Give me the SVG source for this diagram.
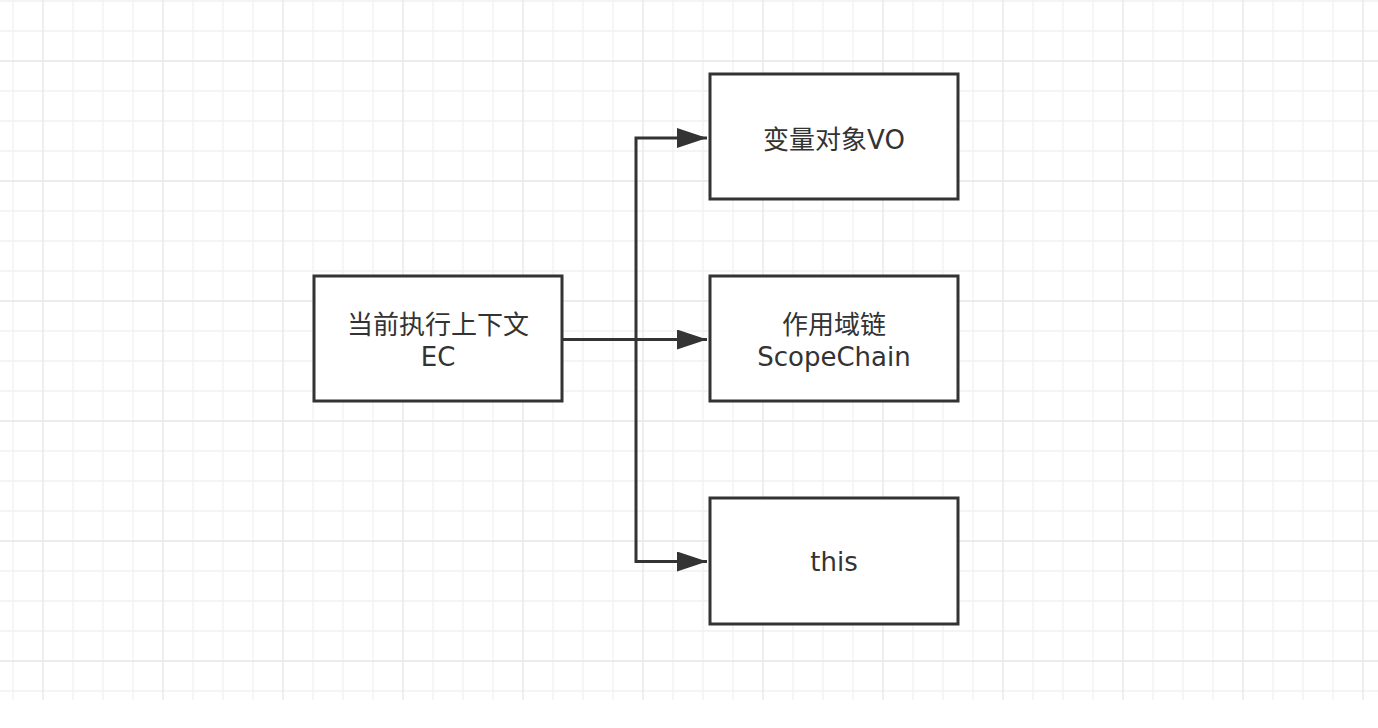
<svg xmlns="http://www.w3.org/2000/svg" width="1378" height="728" viewBox="0 0 1378 728">
<style>
.minor{stroke:#f1f1f1;stroke-width:1.3;fill:none}
.major{stroke:#e6e6e6;stroke-width:1.3;fill:none}
.box{fill:#ffffff;stroke:#333333;stroke-width:3}
.lbl{font-family:"DejaVu Sans","Noto Sans CJK SC",sans-serif;font-size:26px;fill:#333333;text-anchor:middle}
.conn{fill:none;stroke:#333333;stroke-width:3;stroke-linejoin:miter}
</style>
<defs>
<marker id="arrow" markerUnits="userSpaceOnUse" markerWidth="30" markerHeight="20" refX="30" refY="10" orient="auto">
<path d="M0 0L30 10L0 20Z" fill="#333333"/>
</marker>
</defs>
<rect x="0" y="0" width="1378" height="728" fill="#ffffff"/>
<g id="grid">
<path class="minor" d="M13 0V700M73 0V700M103 0V700M133 0V700M193 0V700M223 0V700M253 0V700M313 0V700M343 0V700M373 0V700M433 0V700M463 0V700M493 0V700M553 0V700M583 0V700M613 0V700M673 0V700M703 0V700M733 0V700M793 0V700M823 0V700M853 0V700M913 0V700M943 0V700M973 0V700M1033 0V700M1063 0V700M1093 0V700M1153 0V700M1183 0V700M1213 0V700M1273 0V700M1303 0V700M1333 0V700"/>
<path class="minor" d="M0 1H1378M0 31H1378M0 91H1378M0 121H1378M0 151H1378M0 211H1378M0 241H1378M0 271H1378M0 331H1378M0 361H1378M0 391H1378M0 451H1378M0 481H1378M0 511H1378M0 571H1378M0 601H1378M0 631H1378M0 691H1378"/>
<path class="major" d="M43 0V700M163 0V700M283 0V700M403 0V700M523 0V700M643 0V700M763 0V700M883 0V700M1003 0V700M1123 0V700M1243 0V700M1363 0V700"/>
<path class="major" d="M0 61H1378M0 181H1378M0 301H1378M0 421H1378M0 541H1378M0 661H1378"/>
</g>
<g id="connectors">
<path class="conn" d="M562 339.5H636V138H707" marker-end="url(#arrow)"/>
<path class="conn" d="M562 339.5H707" marker-end="url(#arrow)"/>
<path class="conn" d="M562 339.5H636V561.5H707" marker-end="url(#arrow)"/>
</g>
<g id="node-ec">
<rect class="box" x="314" y="276" width="248" height="125"/>
<text class="lbl" x="438" y="334">当前执行上下文</text>
<text class="lbl" x="438" y="366">EC</text>
</g>
<g id="node-vo">
<rect class="box" x="710" y="74" width="248" height="125"/>
<text class="lbl" x="834" y="149">变量对象VO</text>
</g>
<g id="node-scopechain">
<rect class="box" x="710" y="276" width="248" height="125"/>
<text class="lbl" x="834" y="334">作用域链</text>
<text class="lbl" x="834" y="366">ScopeChain</text>
</g>
<g id="node-this">
<rect class="box" x="710" y="498" width="248" height="126"/>
<text class="lbl" x="834" y="571">this</text>
</g>
</svg>
